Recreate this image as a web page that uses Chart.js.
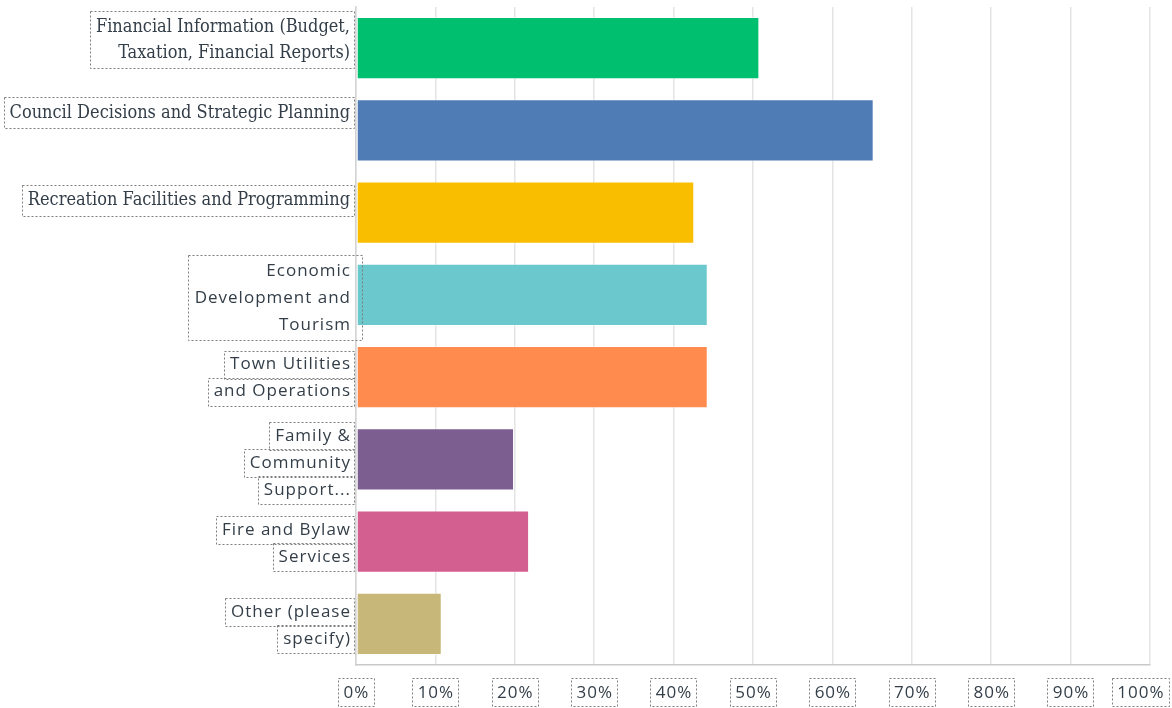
<!DOCTYPE html>
<html>
<head>
<meta charset="utf-8">
<title>Survey responses</title>
<script src="https://cdn.jsdelivr.net/npm/chart.js@4.4.0/dist/chart.umd.min.js"></script>
<style>
  html, body { margin: 0; padding: 0; background: #ffffff; }
  #wrap { width: 1172px; height: 708px; }
</style>
</head>
<body>
<div id="wrap"><canvas id="responseChart"></canvas></div>
<script>
// answer choices, one entry per line of the label
const categories = [
  ["Financial Information (Budget,", "Taxation, Financial Reports)"],
  ["Council Decisions and Strategic Planning"],
  ["Recreation Facilities and Programming"],
  ["Economic", "Development and", "Tourism"],
  ["Town Utilities", "and Operations"],
  ["Family &", "Community", "Support..."],
  ["Fire and Bylaw", "Services"],
  ["Other (please", "specify)"]
];

// share of respondents, percent
const responsePercent = [50.8, 65.2, 42.6, 44.3, 44.3, 19.9, 21.8, 10.8];

const xTicks = [0, 10, 20, 30, 40, 50, 60, 70, 80, 90, 100];

const barColors = [
  "#00bf6f", "#507cb6", "#f9be00", "#6bc8cd",
  "#ff8b4f", "#7d5e90", "#d25f90", "#c7b879"
];

// label look: serif rows get one box, the rest box each line
const labelSerif = [true, true, true, false, false, false, false, false];
const labelBlockBox = [true, true, true, true, false, false, false, false];
// vertical nudge of each label block from its bar centre
const labelNudge = [-8, -17, -12, 3, 1, 4, 2, 2];

const TEXT_COLOR = "#333e48";
const BOX_COLOR = "#7d7d7d";
const SERIF_FONT = '18px "DejaVu Serif Condensed", "DejaVu Serif", serif';
const SANS_FONT = '17px "Open Sans"';

function dottedBox(ctx, x1, y1, x2, y2) {
  ctx.save();
  ctx.strokeStyle = BOX_COLOR;
  ctx.lineWidth = 1;
  ctx.setLineDash([2, 2]);
  ctx.strokeRect(Math.round(x1) + 0.5, Math.round(y1) + 0.5,
                 Math.round(x2 - x1), Math.round(y2 - y1));
  ctx.restore();
}

const boxedLabels = {
  id: "boxedLabels",
  afterDraw(chart) {
    const ctx = chart.ctx;
    const xs = chart.scales.x;
    const ys = chart.scales.y;
    const textRight = 350;

    ctx.save();
    ctx.fillStyle = TEXT_COLOR;
    ctx.textAlign = "right";
    ctx.textBaseline = "middle";

    categories.forEach((lines, i) => {
      const serif = labelSerif[i];
      ctx.font = serif ? SERIF_FONT : SANS_FONT;
      ctx.letterSpacing = serif ? "0px" : "1px";
      const lineH = serif ? 26 : 27;
      const mid = ys.getPixelForValue(i) + labelNudge[i];
      const centers = lines.map((_, k) => mid + (k - (lines.length - 1) / 2) * lineH);

      let widest = 0;
      lines.forEach((t, k) => {
        const w = ctx.measureText(t).width;
        widest = Math.max(widest, w);
        ctx.fillText(t, textRight + (serif ? 0 : 1), centers[k]);
        if (!labelBlockBox[i]) {
          dottedBox(ctx, textRight - w - 5, centers[k] - 14, textRight + 4, centers[k] + 14);
        }
      });
      if (labelBlockBox[i]) {
        const right = serif ? textRight + 4 : textRight + 12;
        dottedBox(ctx, textRight - widest - 6, centers[0] - 16,
                  right, centers[centers.length - 1] + 15);
      }
    });

    // percent ticks under the axis
    ctx.font = SANS_FONT;
    ctx.letterSpacing = "1px";
    ctx.textAlign = "center";
    xTicks.forEach(v => {
      const label = v + "%";
      const w = ctx.measureText(label).width;
      let cx = xs.getPixelForValue(v);
      const half = w / 2 + 5;
      if (cx + half > chart.width - 3) cx = chart.width - 3 - half;
      ctx.fillText(label, cx + 0.5, 693);
      dottedBox(ctx, cx - half, 678, cx + half, 706);
    });
    ctx.restore();
  }
};

const ctx = document.getElementById("responseChart").getContext("2d");

new Chart(ctx, {
  type: "bar",
  data: {
    labels: categories,
    datasets: [{
      data: responsePercent,
      backgroundColor: barColors,
      borderColor: "rgba(255,255,255,0.5)",
      borderWidth: 1,
      borderSkipped: false,
      barPercentage: 0.755,
      categoryPercentage: 1
    }]
  },
  options: {
    indexAxis: "y",
    responsive: true,
    maintainAspectRatio: false,
    animation: false,
    layout: { padding: { top: 7, right: 22, left: 0, bottom: 0 } },
    plugins: {
      legend: { display: false },
      tooltip: { enabled: false }
    },
    scales: {
      x: {
        min: 0,
        max: 100,
        afterFit(scale) { scale.height = 43; },
        ticks: { display: false, stepSize: 10 },
        grid: { color: "#e4e4e4", lineWidth: 1.5, drawTicks: false },
        border: { display: true, color: "#c8c8c8", width: 1.5 }
      },
      y: {
        afterFit(scale) { scale.width = 356; },
        ticks: { display: false },
        grid: { display: false, drawTicks: false },
        border: { display: true, color: "#d3d3d3", width: 1.5 }
      }
    }
  },
  plugins: [boxedLabels]
});
</script>
</body>
</html>
